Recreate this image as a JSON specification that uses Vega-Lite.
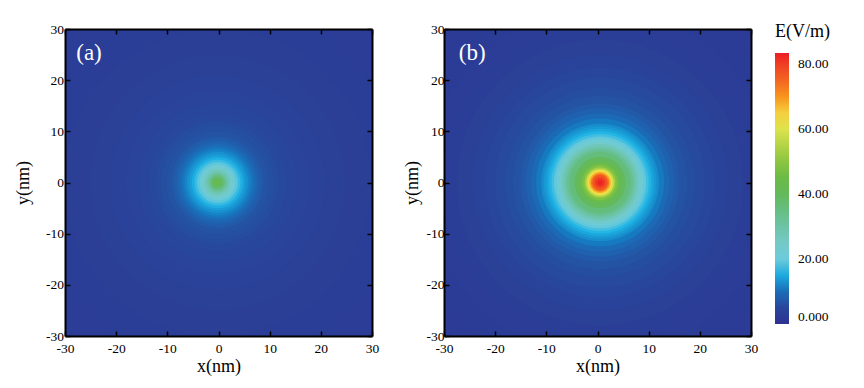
{
  "$schema": "https://vega.github.io/schema/vega-lite/v6.json",
  "padding": {"left": 14, "top": 22, "right": 5, "bottom": 5},
  "background": "white",
  "datasets": {
    "rings": [
      {"p":"a","cx":-0.2,"cy":0,"d":86,"e":3.5},
      {"p":"a","cx":-0.2,"cy":0,"d":72,"e":3.7},
      {"p":"a","cx":-0.2,"cy":0,"d":60,"e":3.9},
      {"p":"a","cx":-0.2,"cy":0,"d":50,"e":4.1},
      {"p":"a","cx":-0.2,"cy":0,"d":42,"e":4.4},
      {"p":"a","cx":-0.2,"cy":0,"d":36,"e":4.7},
      {"p":"a","cx":-0.2,"cy":0,"d":31,"e":5.0},
      {"p":"a","cx":-0.2,"cy":0,"d":27,"e":5.4},
      {"p":"a","cx":-0.2,"cy":0,"d":24,"e":5.9},
      {"p":"a","cx":-0.2,"cy":0,"d":22,"e":6.4},
      {"p":"a","cx":-0.2,"cy":0,"d":20,"e":7.0},
      {"p":"a","cx":-0.2,"cy":0,"d":18,"e":7.7},
      {"p":"a","cx":-0.2,"cy":0,"d":17,"e":8.3},
      {"p":"a","cx":-0.2,"cy":0,"d":16,"e":9},
      {"p":"a","cx":-0.2,"cy":0,"d":15,"e":9.8},
      {"p":"a","cx":-0.2,"cy":0,"d":14,"e":10.7},
      {"p":"a","cx":-0.2,"cy":0,"d":13,"e":11.7},
      {"p":"a","cx":-0.2,"cy":0,"d":12,"e":12.8},
      {"p":"a","cx":-0.2,"cy":0,"d":11,"e":14},
      {"p":"a","cx":-0.2,"cy":0,"d":10,"e":15.5},
      {"p":"a","cx":-0.2,"cy":0,"d":9,"e":17},
      {"p":"a","cx":-0.2,"cy":0,"d":8,"e":19},
      {"p":"a","cx":-0.2,"cy":0,"d":7,"e":21},
      {"p":"a","cx":-0.2,"cy":0,"d":6,"e":24},
      {"p":"a","cx":-0.2,"cy":0,"d":5,"e":27},
      {"p":"a","cx":-0.2,"cy":0,"d":4,"e":31},
      {"p":"a","cx":-0.2,"cy":0,"d":3,"e":36},
      {"p":"a","cx":-0.2,"cy":0,"d":2,"e":40},
      {"p":"a","cx":-0.2,"cy":0,"d":1,"e":43},
      {"p":"b","cx":0.5,"cy":0,"d":86,"e":2.8},
      {"p":"b","cx":0.5,"cy":0,"d":76,"e":3.1},
      {"p":"b","cx":0.5,"cy":0,"d":68,"e":3.4},
      {"p":"b","cx":0.5,"cy":0,"d":62,"e":3.7},
      {"p":"b","cx":0.5,"cy":0,"d":56,"e":4.1},
      {"p":"b","cx":0.5,"cy":0,"d":50,"e":4.6},
      {"p":"b","cx":0.5,"cy":0,"d":45,"e":5.1},
      {"p":"b","cx":0.5,"cy":0,"d":41,"e":5.7},
      {"p":"b","cx":0.5,"cy":0,"d":37,"e":6.3},
      {"p":"b","cx":0.5,"cy":0,"d":34,"e":7},
      {"p":"b","cx":0.5,"cy":0,"d":31,"e":7.8},
      {"p":"b","cx":0.5,"cy":0,"d":29,"e":8.6},
      {"p":"b","cx":0.5,"cy":0,"d":27,"e":9.6},
      {"p":"b","cx":0.5,"cy":0,"d":25,"e":11},
      {"p":"b","cx":0.5,"cy":0,"d":23,"e":12.5},
      {"p":"b","cx":0.5,"cy":0,"d":22,"e":13.5},
      {"p":"b","cx":0.5,"cy":0,"d":21,"e":14.7},
      {"p":"b","cx":0.5,"cy":0,"d":20,"e":16},
      {"p":"b","cx":0.5,"cy":0,"d":19,"e":17.5},
      {"p":"b","cx":0.5,"cy":0,"d":18,"e":19.5},
      {"p":"b","cx":0.5,"cy":0,"d":17,"e":21.5},
      {"p":"b","cx":0.5,"cy":0,"d":16,"e":24},
      {"p":"b","cx":0.5,"cy":0,"d":15,"e":27},
      {"p":"b","cx":0.5,"cy":0,"d":14,"e":30},
      {"p":"b","cx":0.5,"cy":0,"d":13,"e":33},
      {"p":"b","cx":0.5,"cy":0,"d":12,"e":36},
      {"p":"b","cx":0.5,"cy":0,"d":10,"e":40},
      {"p":"b","cx":0.5,"cy":0,"d":8,"e":44},
      {"p":"b","cx":0.5,"cy":0,"d":7,"e":48},
      {"p":"b","cx":0.5,"cy":0,"d":6,"e":53},
      {"p":"b","cx":0.5,"cy":0,"d":5.4,"e":58},
      {"p":"b","cx":0.5,"cy":0,"d":4.8,"e":63},
      {"p":"b","cx":0.5,"cy":0,"d":4.2,"e":68},
      {"p":"b","cx":0.5,"cy":0,"d":3.6,"e":73},
      {"p":"b","cx":0.5,"cy":0,"d":3,"e":77},
      {"p":"b","cx":0.5,"cy":0,"d":2,"e":81},
      {"p":"b","cx":0.5,"cy":0,"d":1,"e":83}
    ],
    "labels": [
      {"p":"a","lx":-27.8,"ly":24,"t":"(a)"},
      {"p":"b","lx":-27.1,"ly":24,"t":"(b)"}
    ]
  },
  "hconcat": [
    {
      "width": 307, "height": 307,
      "layer": [
        {
          "data": {"name": "rings"},
          "transform": [{"filter": "datum.p === 'a'"}],
          "mark": {"type": "point", "shape": "circle", "filled": true, "opacity": 1, "strokeWidth": 0, "clip": true},
          "encoding": {
            "x": {"field": "cx", "type": "quantitative", "scale": {"domain": [-30, 30], "nice": false, "zero": false},
                  "axis": {"orient": "bottom", "title": "x(nm)", "labelPadding": 10.5, "titlePadding": 2.5, "ticks": true, "tickSize": -5, "zindex": 2}},
            "y": {"field": "cy", "type": "quantitative", "scale": {"domain": [-30, 30], "nice": false, "zero": false},
                  "axis": {"orient": "left", "title": "y(nm)", "labelPadding": 6.5, "titlePadding": 13, "ticks": true, "tickSize": -5, "zindex": 2}},
            "size": {"field": "d", "type": "quantitative", "scale": {"type": "pow", "exponent": 2, "domain": [0, 60], "range": [0, 94249]}, "legend": null},
            "color": {"field": "e", "type": "quantitative",
                      "scale": {"domain": [0, 4, 7, 10, 13, 16, 20, 25, 30, 35, 40, 45, 50, 56, 62, 66, 70, 76, 83.4],
                                "range": ["#2e3192", "#2b3f97", "#2453a3", "#1b6db8", "#1a93d0", "#22b5e5", "#6ccbdb", "#74c9c6", "#6dc3a5", "#66be82", "#64b95a", "#6bbb47", "#8cc540", "#bcd748", "#ece84f", "#f8c73c", "#f7941d", "#f15a24", "#ed1c24"]},
                      "legend": {"orient": "none", "legendX": 710, "legendY": -6, "direction": "vertical", "title": "E(V/m)",
                                 "titleFontSize": 18, "titleFontWeight": "normal", "titleColor": "black", "titlePadding": 12,
                                 "gradientLength": 271, "gradientThickness": 14, "gradientStrokeWidth": 0,
                                 "labelFontSize": 13.5, "labelColor": "black", "labelOffset": 9, "labelBaseline": "middle", "labelAlign": "left",
                                 "labelExpr": "datum.value === 0 ? '0.000' : format(datum.value, '.2f')",
                                 "values": [0, 20, 40, 60, 80], "padding": 0, "labelOverlap": false}},
            "order": {"field": "d", "sort": "descending"}
          }
        },
        {
          "data": {"name": "labels"},
          "transform": [{"filter": "datum.p === 'a'"}],
          "mark": {"type": "text", "align": "left", "baseline": "alphabetic", "fontSize": 23, "fill": "white"},
          "encoding": {
            "x": {"field": "lx", "type": "quantitative", "axis": {"orient": "top", "labels": false, "title": null, "ticks": true, "tickSize": -5, "zindex": 2}},
            "y": {"field": "ly", "type": "quantitative", "axis": {"orient": "right", "labels": false, "title": null, "ticks": true, "tickSize": -5, "zindex": 2}},
            "text": {"field": "t"}
          }
        }
      ],
      "resolve": {"axis": {"x": "independent", "y": "independent"}}
    },
    {
      "width": 307, "height": 307,
      "layer": [
        {
          "data": {"name": "rings"},
          "transform": [{"filter": "datum.p === 'b'"}],
          "mark": {"type": "point", "shape": "circle", "filled": true, "opacity": 1, "strokeWidth": 0, "clip": true},
          "encoding": {
            "x": {"field": "cx", "type": "quantitative", "scale": {"domain": [-30, 30], "nice": false, "zero": false},
                  "axis": {"orient": "bottom", "title": "x(nm)", "labelPadding": 10.5, "titlePadding": 2.5, "ticks": true, "tickSize": -5, "zindex": 2}},
            "y": {"field": "cy", "type": "quantitative", "scale": {"domain": [-30, 30], "nice": false, "zero": false},
                  "axis": {"orient": "left", "title": "y(nm)", "labelPadding": 5, "titlePadding": 5, "ticks": true, "tickSize": -5, "zindex": 2}},
            "size": {"field": "d", "type": "quantitative", "scale": {"type": "pow", "exponent": 2, "domain": [0, 60], "range": [0, 94249]}, "legend": null},
            "color": {"field": "e", "type": "quantitative",
                      "scale": {"domain": [0, 4, 7, 10, 13, 16, 20, 25, 30, 35, 40, 45, 50, 56, 62, 66, 70, 76, 83.4],
                                "range": ["#2e3192", "#2b3f97", "#2453a3", "#1b6db8", "#1a93d0", "#22b5e5", "#6ccbdb", "#74c9c6", "#6dc3a5", "#66be82", "#64b95a", "#6bbb47", "#8cc540", "#bcd748", "#ece84f", "#f8c73c", "#f7941d", "#f15a24", "#ed1c24"]}},
            "order": {"field": "d", "sort": "descending"}
          }
        },
        {
          "data": {"name": "labels"},
          "transform": [{"filter": "datum.p === 'b'"}],
          "mark": {"type": "text", "align": "left", "baseline": "alphabetic", "fontSize": 23, "fill": "white"},
          "encoding": {
            "x": {"field": "lx", "type": "quantitative", "axis": {"orient": "top", "labels": false, "title": null, "ticks": true, "tickSize": -5, "zindex": 2}},
            "y": {"field": "ly", "type": "quantitative", "axis": {"orient": "right", "labels": false, "title": null, "ticks": true, "tickSize": -5, "zindex": 2}},
            "text": {"field": "t"}
          }
        }
      ],
      "resolve": {"axis": {"x": "independent", "y": "independent"}}
    }
  ],
  "spacing": 72,
  "bounds": "flush",
  "resolve": {"scale": {"color": "shared", "size": "shared"}, "legend": {"color": "shared"}},
  "config": {
    "font": "Liberation Serif",
    "view": {"stroke": null},
    "axis": {
      "values": [-30, -25, -20, -15, -10, -5, 0, 5, 10, 15, 20, 25, 30],
      "labelExpr": "datum.value % 10 === 0 ? '' + datum.value : ''",
      "tickColor": "black",
      "tickWidth": 1.5,
      "domainColor": "black",
      "domainWidth": 2,
      "grid": false,
      "labelFontSize": 13.5,
      "labelColor": "black",
      "labelFlush": false,
      "labelOverlap": false,
      "titleFontSize": 18,
      "titleFontWeight": "normal",
      "titleColor": "black"
    }
  }
}
